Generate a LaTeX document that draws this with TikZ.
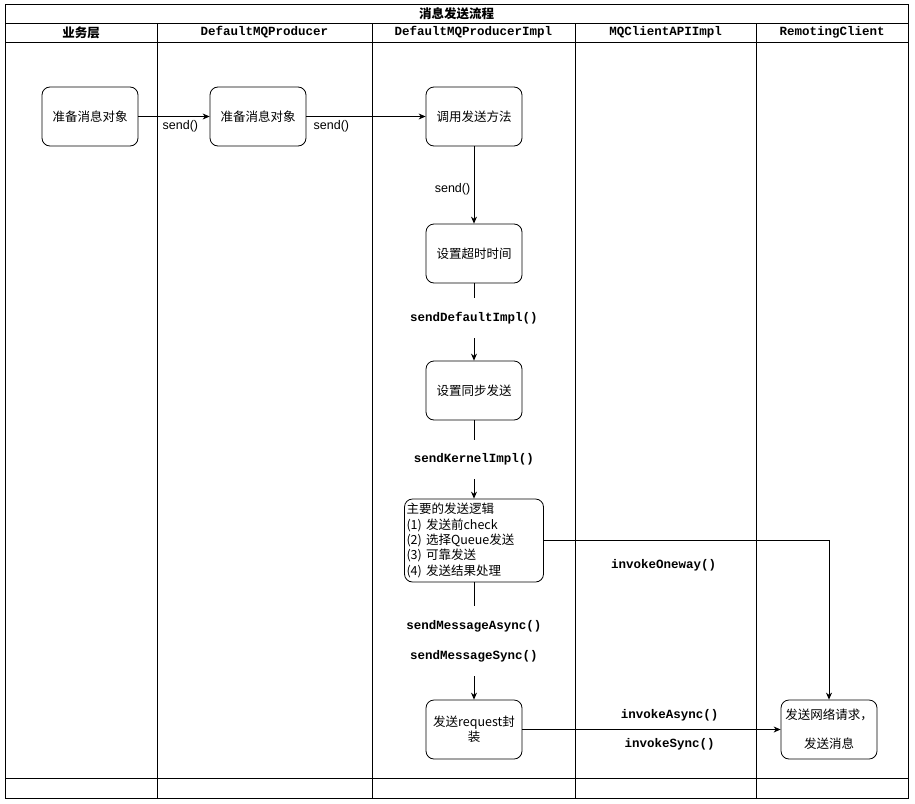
\documentclass[tikz,border=0pt]{standalone}
\usepackage{fontspec}
\setmainfont{Noto Sans CJK SC}
\newfontfamily\codefont{Liberation Mono}
\newfontfamily\latinfont{Liberation Sans}
\usetikzlibrary{shapes, arrows.meta}

\newcommand{\fsz}{\fontsize{12.5}{15.3}\selectfont}

\tikzstyle{block} = [rectangle, draw, fill=white, align=center, font=\fsz,
	rounded corners=8pt, minimum width=96pt, minimum height=59pt, inner sep=2pt]
\tikzstyle{head} = [font=\fsz\bfseries]
\tikzstyle{lane} = [font=\codefont\bfseries\fsz]
\tikzstyle{call} = [font=\codefont\bfseries\fsz, fill=white, inner xsep=1pt, inner ysep=14pt]
\tikzstyle{callnote} = [font=\codefont\bfseries\fsz]
\tikzstyle{tag} = [font=\latinfont\fsz]

\begin{document}
\begin{tikzpicture}[x=1pt, y=-1pt, node distance=137pt, line width=0.8pt,
	>={Stealth[length=7pt, width=6pt]}]
		\useasboundingbox (0,0) rectangle (915,803);

		%Draw lanes
		\draw [line width=1pt] (5,4) rectangle (908,798);
		\draw [line width=1pt] (5,23) -- (908,23) (5,42) -- (908,42) (5,778) -- (908,778);
		\foreach \x in {157,372,575,756}
			\draw [line width=1pt] (\x,23) -- (\x,798);

		\node [head] (flow) at (456.5,13.5) {消息发送流程};
		\node [head] (biz) at (81,32.5) {业务层};
		\node [lane] (producer) at (264.5,32.5) {DefaultMQProducer};
		\node [lane] (producerImpl) at (473.5,32.5) {DefaultMQProducerImpl};
		\node [lane] (clientApi) at (665.5,32.5) {MQClientAPIImpl};
		\node [lane] (remoting) at (832,32.5) {RemotingClient};

		%Place nodes
		\node [block] (prepare) at (90,116.5) {准备消息对象};
		\node [block, right of=prepare, node distance=168pt] (wrap) {准备消息对象};
		\node [block] (invoke) at (474,116.5) {调用发送方法};
		\node [block, below of=invoke] (timeout) {设置超时时间};
		\node [block, below of=timeout] (sync) {设置同步发送};
		\node [block, below of=sync, node distance=150pt, minimum width=139pt,
			minimum height=83pt, text width=135pt, align=left] (logic)
			{主要的发送逻辑\\(1) 发送前check\\(2) 选择Queue发送\\(3) 可靠发送\\(4) 发送结果处理};
		\node [block, below of=logic, node distance=189pt] (request) {发送request封\\装};
		\node [block, right of=request, node distance=355pt] (net) {发送网络请求，\\[13.7pt]发送消息};

		%Draw edges
		\draw [->] (prepare) -- node [tag, below, pos=0.59] {send()} (wrap);
		\draw [->] (wrap) -- node [tag, below, pos=0.21] {send()} (invoke);
		\draw [->] (invoke) -- node [tag, left, pos=0.56] {send()} (timeout);
		\draw [->] (timeout) -- node [call, pos=0.45] {sendDefaultImpl()} (sync);
		\draw [->] (sync) -- node [call] {sendKernelImpl()} (logic);
		\draw [->] (logic) -- node [call, align=center] {sendMessageAsync()\\[14.7pt]sendMessageSync()} (request);
		\draw [->] (logic) -| node [callnote, below=15pt, pos=0.21] {invokeOneway()} (net);
		\draw [->] (request) -- node [callnote, above=5pt, pos=0.57] {invokeAsync()}
			node [callnote, below=5pt, pos=0.57] {invokeSync()} (net);

	\end{tikzpicture}
\end{document}
